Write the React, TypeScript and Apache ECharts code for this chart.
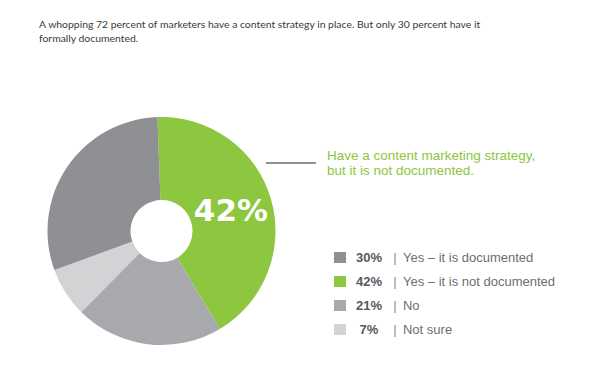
import React, { useEffect, useRef } from "react";
import * as echarts from "echarts";

const titleLines = [
  "A whopping 72 percent of marketers have a content strategy in place. But only 30 percent have it",
  "formally documented.",
];

// slice order, clockwise from the top
const categories = [
  "Yes – it is not documented",
  "No",
  "Not sure",
  "Yes – it is documented",
];
const values = [42, 21, 7, 30];
const colors = ["#8dc63f", "#a7a9ac", "#d1d3d4", "#8e9093"];

// legend order
const legendOrder = [
  "Yes – it is documented",
  "Yes – it is not documented",
  "No",
  "Not sure",
];

const calloutLines = ["Have a content marketing strategy,", "but it is not documented."];

export default function App() {
  const ref = useRef<HTMLDivElement>(null);
  useEffect(() => {
    if (!ref.current) return;
    const chart = echarts.init(ref.current, null, { renderer: "svg" });
    const valueOf = (name: string) => values[categories.indexOf(name)];
    chart.setOption({
      animation: false,
      backgroundColor: "#ffffff",
      title: {
        text: titleLines.join("\n"),
        left: 26,
        top: 4,
        textStyle: {
          fontFamily: "Lato",
          fontSize: 10.4,
          fontWeight: "normal",
          color: "#3a3a3a",
          lineHeight: 14,
        },
      },
      legend: {
        orient: "vertical",
        left: 321,
        top: 238,
        icon: "rect",
        itemWidth: 12,
        itemHeight: 11,
        itemGap: 11,
        data: legendOrder,
        formatter: (name: string) =>
          `{p|${valueOf(name)}%}{s|\u007c}{t|${name}}`,
        textStyle: {
          fontFamily: "Liberation Sans",
          fontSize: 13,
          color: "#6d6e71",
          rich: {
            p: {
              fontFamily: "Liberation Sans",
              fontSize: 13,
              fontWeight: "bold",
              color: "#58595b",
              width: 36,
              align: "right",
            },
            s: {
              fontFamily: "Liberation Sans",
              fontSize: 13,
              color: "#8e8f91",
              width: 16,
              align: "center",
            },
            t: {
              fontFamily: "Liberation Sans",
              fontSize: 13,
              color: "#6d6e71",
            },
          },
        },
      },
      series: [
        {
          type: "pie",
          center: [153.5, 223],
          radius: [31, 114],
          startAngle: 92,
          clockwise: true,
          avoidLabelOverlap: false,
          label: { show: false },
          labelLine: { show: false },
          emphasis: { disabled: true },
          data: categories.map((name, i) => ({
            name,
            value: values[i],
            itemStyle: { color: colors[i] },
            label:
              i === 0
                ? {
                    show: true,
                    position: "inside",
                    formatter: "{c}%",
                    color: "#ffffff",
                    fontFamily: "DejaVu Sans",
                    fontWeight: "bold",
                    fontSize: 31,
                    padding: [22, 6, 0, 0],
                  }
                : { show: false },
          })),
        },
      ],
      graphic: [
        {
          type: "line",
          shape: { x1: 258, y1: 155, x2: 308, y2: 155 },
          style: { stroke: "#8e9093", lineWidth: 2 },
        },
        {
          type: "text",
          left: 319,
          top: 140,
          style: {
            text: calloutLines.join("\n"),
            fontFamily: "Liberation Sans",
            fontSize: 13.5,
            lineHeight: 15,
            fill: "#8dc63f",
          },
        },
      ],
    });
    return () => chart.dispose();
  }, []);
  return <div ref={ref} style={{ width: 600, height: 371 }} />;
}
